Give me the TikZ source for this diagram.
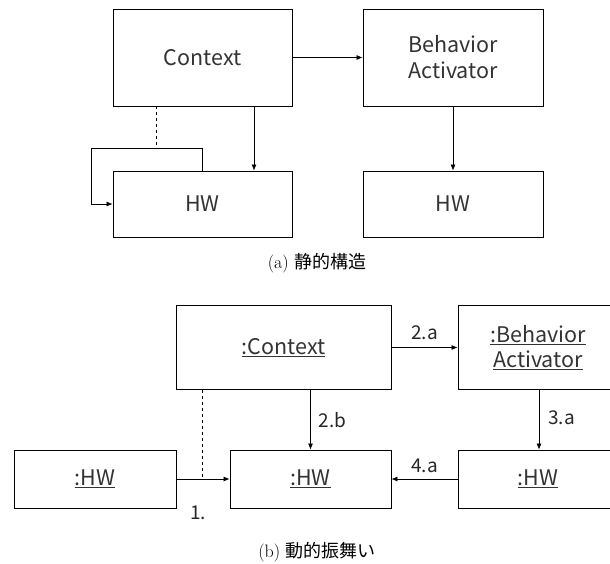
\documentclass[tikz,border=0pt]{standalone}
\usepackage{fontspec}
\newfontfamily\boxfont{Noto Sans CJK JP}
\newfontfamily\cjkfont{Noto Sans CJK JP}
\usetikzlibrary{arrows.meta}
\begin{document}
\begin{tikzpicture}[x=1pt,y=-1pt,
  box/.style={draw, line width=0.8pt, inner sep=0pt, align=center,
    font=\boxfont\fontsize{21.5}{26}\selectfont, text=black!80},
  arr/.style={-{Latex[length=6pt,width=5pt]}, line width=0.7pt},
  lbl/.style={font=\boxfont\fontsize{19}{20}\selectfont, inner sep=0pt, text=black!85},
  captext/.style={font=\fontsize{18}{20}\selectfont, inner sep=0pt}]
\useasboundingbox (0,0) rectangle (610,564);

% ---- (a) static structure ----
\node[box, minimum width=179pt, minimum height=97pt] (ctx) at (202.5,57.5) {Context};
\node[box, minimum width=180pt, minimum height=97pt] (ba) at (453,57.5) {Behavior\\Activator};
\node[box, minimum width=179pt, minimum height=66pt] (hw1) at (202.5,204) {HW};
\node[box, minimum width=180pt, minimum height=66pt] (hw2) at (453,204) {HW};

\coordinate (cx) at (254,0);
\coordinate (dx) at (156,0);
\coordinate (lp) at (91,148);

\draw[arr] (ctx.east) -- (ba.west);
\draw[arr] (ctx.south -| cx) -- (hw1.north -| cx);
\draw[arr] (ba.south) -- (hw2.north);
\draw[dashed, line width=0.7pt] (ctx.south -| dx) -- (lp -| dx);
\draw[arr] (hw1.north) |- (lp) |- (hw1.west);

\node[captext] (capa) at (317,263) {(a) {\cjkfont 静的構造}};

% ---- (b) dynamic behaviour ----
\node[box, minimum width=215pt, minimum height=84pt] (bctx) at (283.5,347.5) {\underline{:Context}};
\node[box, minimum width=160pt, minimum height=84pt, font=\boxfont\fontsize{21.5}{25}\selectfont] (bba) at (538,347.5) {\underline{:Behavior}\\\underline{Activator}};
\node[box, minimum width=162pt, minimum height=58pt] (bhw1) at (95,479) {\underline{:HW}};
\node[box, minimum width=161pt, minimum height=58pt] (bhw2) at (310.5,479) {\underline{:HW}};
\node[box, minimum width=160pt, minimum height=58pt] (bhw3) at (538,479) {\underline{:HW}};

\coordinate (ax) at (539,0);
\coordinate (bx) at (202,0);

\draw[arr] (bctx.east) -- node[lbl, above=7pt] (l2a) {2.a} (bba.west);
\draw[arr] (bctx.south -| bhw2.north) -- node[lbl, right=8pt] (l2b) {2.b} (bhw2.north);
\draw[arr] (bba.south -| ax) -- node[lbl, right=9pt, yshift=2pt] (l3a) {3.a} (bhw3.north -| ax);
\draw[arr] (bhw3.west) -- node[lbl, above=6pt] (l4a) {4.a} (bhw2.east);
\draw[arr] (bhw1.east) -- (bhw2.west);
\draw[dashed, line width=0.7pt] (bctx.south -| bx) -- (bhw1.east -| bx);
\node[lbl] (l1) at (198,513) {1.};

\node[captext] (capb) at (317,552) {(b) {\cjkfont 動的振舞い}};
\end{tikzpicture}
\end{document}
